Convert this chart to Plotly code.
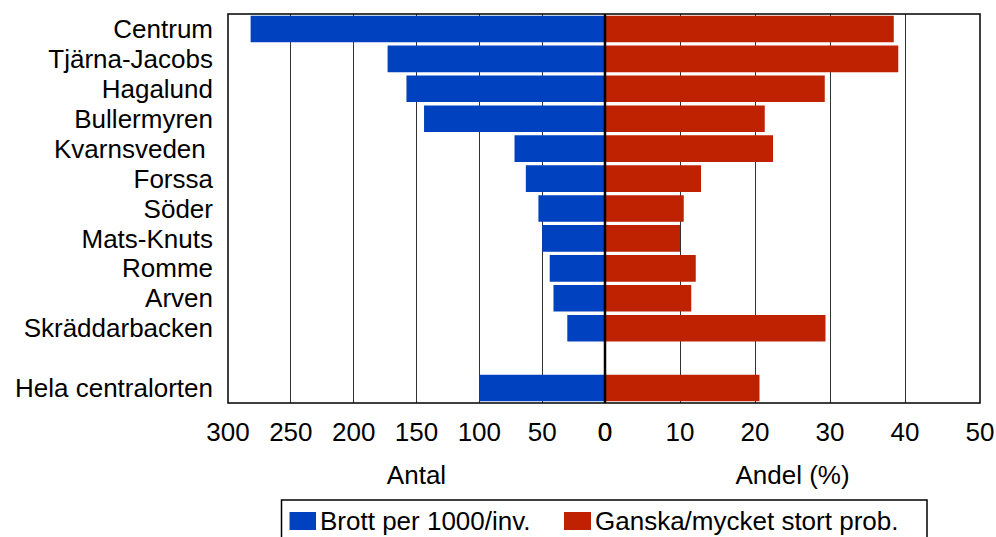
import plotly.graph_objects as go

# ---- data ----
areas = ["Centrum", "Tjärna-Jacobs", "Hagalund", "Bullermyren", "Kvarnsveden\u00a0",
         "Forssa", "Söder", "Mats-Knuts", "Romme", "Arven", "Skräddarbacken",
         " ", "Hela centralorten"]
brott = [282, 173, 158, 144, 72, 63, 53, 50, 44, 41, 30, None, 100]
andel = [38.5, 39.1, 29.3, 21.3, 22.4, 12.8, 10.5, 10.0, 12.1, 11.5, 29.4, None, 20.6]
left_ticks = [300, 250, 200, 150, 100, 50, 0]
right_ticks = [0, 10, 20, 30, 40, 50]
name_brott = "Brott per 1000/inv."
name_andel = "Ganska/mycket stort prob."
title_left = "Antal"
title_right = "Andel (%)"

# ---- style ----
W, H = 996, 537
# plot area in page pixels: left 228, right 980, top 14, bottom 403
ML, MT = 228, 14
MR = W - 980
MB = H - 403
PW, PH = W - ML - MR, H - MT - MB
BLUE = "#0041BF"
RED = "#BF2200"
FONT = "Liberation Sans, Arial, Helvetica, sans-serif"
FS = 26
split = (605 - ML) / PW


def px(x):
    return (x - ML) / PW


def py(y):
    return (403 - y) / PH


fig = go.Figure()
fig.add_trace(go.Bar(y=areas, x=brott, orientation="h", name=name_brott,
                     marker=dict(color=BLUE, line=dict(width=0)),
                     xaxis="x", yaxis="y", showlegend=False))
fig.add_trace(go.Bar(y=areas, x=andel, orientation="h", name=name_andel,
                     marker=dict(color=RED, line=dict(width=0)),
                     xaxis="x2", yaxis="y", showlegend=False))

axis_common = dict(showgrid=True, gridcolor="#333333", gridwidth=1,
                   zeroline=False, showline=False, ticks="",
                   ticklabelstandoff=11,
                   tickfont=dict(size=FS, color="black", family=FONT),
                   title_font=dict(size=FS, color="black", family=FONT),
                   fixedrange=True)

fig.update_layout(
    width=W, height=H,
    margin=dict(l=ML, r=MR, t=MT, b=MB, autoexpand=False),
    paper_bgcolor="white", plot_bgcolor="white",
    font=dict(family=FONT, size=FS, color="black"),
    bargap=0.11,
    showlegend=False,
    xaxis=dict(domain=[0, split], range=[300, 0], tickmode="array",
               tickvals=left_ticks, ticktext=[str(v) for v in left_ticks],
               anchor="y", title=dict(text=title_left, standoff=19),
               automargin=False, **axis_common),
    xaxis2=dict(domain=[split, 1], range=[0, 50], tickmode="array",
                tickvals=right_ticks, ticktext=[str(v) for v in right_ticks],
                anchor="y", title=dict(text=title_right, standoff=19),
                automargin=False, **axis_common),
    yaxis=dict(categoryorder="array", categoryarray=areas, autorange="reversed",
               tickmode="array", tickvals=areas, ticktext=areas,
               showgrid=False, zeroline=False, showline=False, ticks="",
               ticklabelstandoff=14, automargin=False,
               tickfont=dict(size=FS, color="black", family=FONT),
               fixedrange=True),
)

shapes = [
    # plot frame
    dict(type="rect", xref="paper", yref="paper", x0=0, x1=1, y0=0, y1=1,
         line=dict(color="black", width=1.5), layer="above"),
    # centre line
    dict(type="line", xref="paper", yref="paper", x0=split, x1=split, y0=0, y1=1,
         line=dict(color="black", width=2.5), layer="above"),
    # legend box
    dict(type="rect", xref="paper", yref="paper", x0=px(281.5), x1=px(927),
         y0=py(500), y1=py(560), line=dict(color="black", width=1.5),
         fillcolor="white"),
    dict(type="rect", xref="paper", yref="paper", x0=px(289.5), x1=px(316),
         y0=py(512), y1=py(530), line=dict(width=0), fillcolor=BLUE),
    dict(type="rect", xref="paper", yref="paper", x0=px(564), x1=px(591),
         y0=py(512), y1=py(530), line=dict(width=0), fillcolor=RED),
]
fig.update_layout(shapes=shapes)

fig.add_annotation(text=name_brott, xref="paper", yref="paper", x=px(318), y=py(521),
                   xanchor="left", yanchor="middle", showarrow=False,
                   font=dict(size=FS, color="black", family=FONT))
fig.add_annotation(text=name_andel, xref="paper", yref="paper", x=px(593), y=py(521),
                   xanchor="left", yanchor="middle", showarrow=False,
                   font=dict(size=FS, color="black", family=FONT))

fig.write_html(
    "out.html",
    config={"displayModeBar": False, "staticPlot": True},
    post_script="document.body.style.margin='0';document.body.style.overflow='hidden';",
)
